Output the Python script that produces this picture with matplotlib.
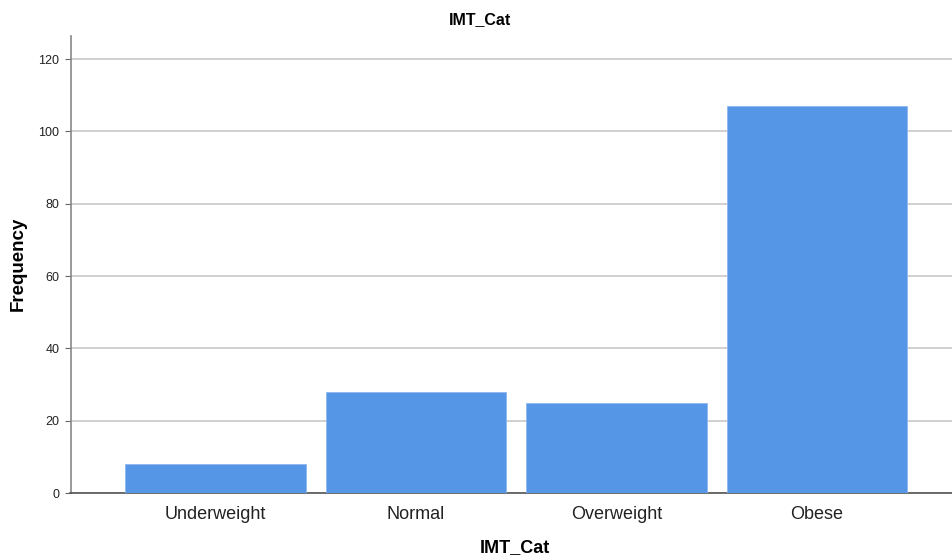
import numpy as np
import matplotlib.pyplot as plt

plt.rcParams['font.family'] = ['Liberation Sans', 'DejaVu Sans']

categories = ['Underweight', 'Normal', 'Overweight', 'Obese']
frequency = [8, 28, 25, 107]
yticks = [0, 20, 40, 60, 80, 100, 120]

fig = plt.figure(figsize=(9.52, 5.6), dpi=100)
ax = fig.add_axes([70.5 / 952, 67 / 560, 1 - 70.5 / 952, 457 / 560])

x = np.arange(len(categories))
ax.bar(x, frequency, width=0.9, color='#5596e6', edgecolor='#8fb8ef', linewidth=0.6, zorder=3)

ax.set_xlim(-0.723, 3.673)
ax.set_ylim(0, 126.4)
ax.set_yticks(yticks)
ax.set_yticklabels([str(v) for v in yticks], fontsize=9, color='#222222')
ax.set_xticks(x)
ax.set_xticklabels(categories, fontsize=13, color='#222222')
ax.tick_params(axis='y', length=4, color='#666666', pad=4)
ax.tick_params(axis='x', length=0, pad=9.5)
ax.grid(axis='y', color='#c8c8c8', linewidth=1.2, zorder=0)

for side in ['top', 'right']:
    ax.spines[side].set_visible(False)
ax.spines['left'].set_color('#888888')
ax.spines['left'].set_linewidth(1.2)
ax.spines['bottom'].set_color('#555555')
ax.spines['bottom'].set_linewidth(1.2)

fig.text(480 / 952, 1 - 20 / 560, 'IMT_Cat', ha='center', va='center', fontsize=11.5, fontweight='bold')
fig.text(515 / 952, 1 - 548 / 560, 'IMT_Cat', ha='center', va='center', fontsize=13, fontweight='bold')
fig.text(18 / 952, 1 - 264 / 560, 'Frequency', ha='center', va='center', rotation=90, fontsize=13.5, fontweight='bold')

fig.savefig('out.png', dpi=100)
